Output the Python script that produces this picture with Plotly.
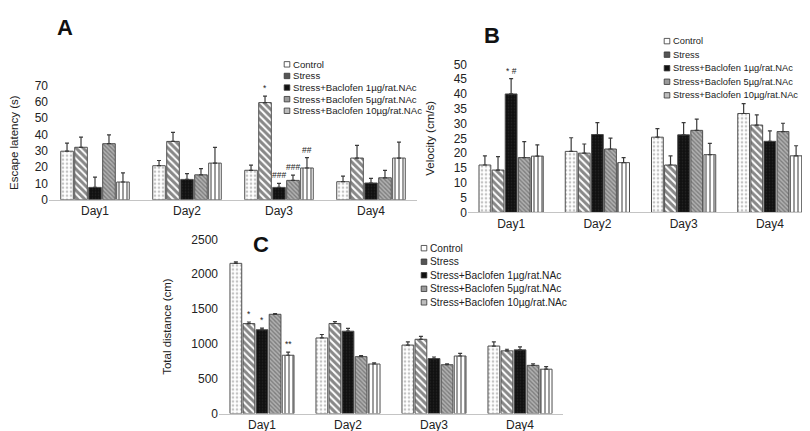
import plotly.graph_objects as go

W, H = 810, 431

days = ["Day1", "Day2", "Day3", "Day4"]
groups = ["Control", "Stress", "Stress+Baclofen 1µg/rat.NAc",
          "Stress+Baclofen 5µg/rat.NAc", "Stress+Baclofen 10µg/rat.NAc"]

# Panel A: escape latency (s)
latency_control = [29.8, 20.9, 18.1, 11.1]
latency_stress = [32.2, 35.8, 59.6, 25.6]
latency_b1 = [7.6, 12.5, 7.6, 10.3]
latency_b5 = [34.4, 15.3, 11.9, 13.5]
latency_b10 = [10.9, 22.5, 19.5, 25.6]
latency_control_err = [5.0, 3.2, 3.2, 3.4]
latency_stress_err = [6.2, 5.6, 4.0, 7.8]
latency_b1_err = [6.3, 3.6, 2.5, 2.8]
latency_b5_err = [5.4, 3.8, 3.2, 4.6]
latency_b10_err = [5.6, 9.7, 6.3, 9.8]

# Panel B: velocity (cm/s)
velocity_control = [16.0, 20.6, 25.4, 33.4]
velocity_stress = [14.3, 20.0, 16.0, 29.5]
velocity_b1 = [40.0, 26.3, 26.2, 24.0]
velocity_b5 = [18.5, 21.4, 27.7, 27.3]
velocity_b10 = [19.0, 16.8, 19.5, 19.1]
velocity_control_err = [3.1, 4.6, 2.9, 3.3]
velocity_stress_err = [4.5, 3.1, 3.1, 3.4]
velocity_b1_err = [5.2, 4.0, 4.1, 3.5]
velocity_b5_err = [5.4, 3.7, 3.8, 2.8]
velocity_b10_err = [3.8, 1.7, 3.8, 3.4]

# Panel C: total distance (cm)
distance_control = [2157, 1086, 984, 970]
distance_stress = [1292, 1294, 1067, 901]
distance_b1 = [1204, 1183, 790, 915]
distance_b5 = [1426, 818, 702, 693]
distance_b10 = [838, 712, 827, 638]
distance_control_err = [20, 50, 46, 60]
distance_stress_err = [23, 28, 42, 23]
distance_b1_err = [23, 42, 23, 42]
distance_b5_err = [9, 14, 14, 23]
distance_b10_err = [46, 18, 37, 37]

# significance marks: (panel, day index, group index, text)
sig_panel = ["A", "A", "A", "A", "B", "C", "C", "C"]
sig_day = [2, 2, 2, 2, 0, 0, 0, 0]
sig_group = [1, 2, 3, 4, 2, 1, 2, 4]
sig_text = ["*", "###", "###", "##", "* #", "*", "*", "**"]

FONT = "Arial, Liberation Sans, sans-serif"
BARGAP = 0.24
BARGROUPGAP = 0.1

styles = [
    dict(color="white", pattern=dict(shape=".", fgcolor="#8a8a8a", bgcolor="white", size=4, solidity=0.35)),
    dict(color="white", pattern=dict(shape="\\", fgcolor="#111111", bgcolor="white", size=5, solidity=0.6)),
    dict(color="#151515", pattern=dict(shape=".", fgcolor="#3a3a3a", bgcolor="#111111", size=3, solidity=0.2)),
    dict(color="#9a9a9a", pattern=dict(shape="\\", fgcolor="#4a4a4a", bgcolor="#b0b0b0", size=3, solidity=0.45)),
    dict(color="white", pattern=dict(shape="|", fgcolor="#222222", bgcolor="white", size=4, solidity=0.45)),
]
legend_fill = ["white", "#555555", "#111111", "#9a9a9a", "#bdbdbd"]

panels = {
    "A": dict(vals=[latency_control, latency_stress, latency_b1, latency_b5, latency_b10],
              errs=[latency_control_err, latency_stress_err, latency_b1_err, latency_b5_err, latency_b10_err],
              xpx=(41, 409), ypx=(191, 73), yrange=(0, 70), dtick=10,
              title="Escape latency (s)", xa="x", ya="y", standoff=17),
    "B": dict(vals=[velocity_control, velocity_stress, velocity_b1, velocity_b5, velocity_b10],
              errs=[velocity_control_err, velocity_stress_err, velocity_b1_err, velocity_b5_err, velocity_b10_err],
              xpx=(460, 805), ypx=(204, 51), yrange=(0, 50), dtick=5,
              title="Velocity (cm/s)", xa="x2", ya="y2", standoff=16),
    "C": dict(vals=[distance_control, distance_stress, distance_b1, distance_b5, distance_b10],
              errs=[distance_control_err, distance_stress_err, distance_b1_err, distance_b5_err, distance_b10_err],
              xpx=(211, 555), ypx=(412, 232), yrange=(0, 2500), dtick=500,
              title="Total distance (cm)", xa="x3", ya="y3", standoff=17),
}

fig = go.Figure()
for key, p in panels.items():
    for gi in range(5):
        fig.add_trace(go.Bar(
            x=days, y=p["vals"][gi], name=groups[gi], showlegend=False,
            xaxis=p["xa"], yaxis=p["ya"],
            marker=dict(color=styles[gi]["color"], pattern=styles[gi]["pattern"],
                        line=dict(color="#4d4d4d", width=1)),
            error_y=dict(type="data", symmetric=False, array=p["errs"][gi],
                         arrayminus=[0] * len(days), color="#3a3a3a", thickness=1.2, width=2),
        ))

layout = dict(
    width=W, height=H, margin=dict(l=0, r=0, t=0, b=0),
    paper_bgcolor="white", plot_bgcolor="white",
    barmode="group", bargap=BARGAP, bargroupgap=BARGROUPGAP,
    font=dict(family=FONT, size=12, color="#222222"),
    showlegend=False,
)

annotations = []
shapes = []
for key, p in panels.items():
    n = p["xa"][1:]
    x0, x1 = p["xpx"]
    yb, yt = p["ypx"]
    layout["xaxis" + n] = dict(
        domain=[x0 / W, x1 / W], anchor=p["ya"], showline=True, linecolor="#c4c4c4",
        linewidth=1, ticks="", showgrid=False, zeroline=False,
        tickfont=dict(size=12, family=FONT, color="#222222"), fixedrange=True)
    layout["yaxis" + n] = dict(
        domain=[1 - yb / H, 1 - yt / H], anchor=p["xa"], range=list(p["yrange"]),
        dtick=p["dtick"], showline=False, showgrid=False, zeroline=False, ticks="",
        tickfont=dict(size=12, family=FONT, color="#222222"),
        title=dict(text=p["title"], font=dict(size=11.5, family=FONT, color="#222222"),
                   standoff=p["standoff"]))

# significance marks placed over the bars via data values
for pk, di, gi, txt in zip(sig_panel, sig_day, sig_group, sig_text):
    p = panels[pk]
    cat_px = (p["xpx"][1] - p["xpx"][0]) / len(days)
    slot = cat_px * (1 - BARGAP) / 5
    annotations.append(dict(
        x=days[di], y=p["vals"][gi][di] + p["errs"][gi][di], xref=p["xa"], yref=p["ya"],
        text=txt, showarrow=False, xshift=(gi - 2) * slot, yshift=1, yanchor="bottom",
        font=dict(size=8.5, family=FONT, color="#222222")))

# panel letters
for letter, (px, py) in {"A": (57, 13), "B": (484, 21), "C": (253, 237)}.items():
    annotations.append(dict(x=px / W, y=1 - py / H, xref="paper", yref="paper", text="<b>%s</b>" % letter,
                            showarrow=False, font=dict(size=22, family=FONT, color="#111111"),
                            xanchor="center", yanchor="middle"))

# legends (compact, per panel)
legend_pos = {"A": (279, [51, 63, 75, 87, 99], 9.6),
              "B": (659, [27, 41, 55, 69, 83], 9.3),
              "C": (416, [241, 255, 269, 283, 297], 10.2)}
for key, (mx, rows, fs) in legend_pos.items():
    for gi, ry in enumerate(rows):
        s = 2.8
        shapes.append(dict(type="rect", xref="paper", yref="paper",
                           x0=(mx - s) / W, x1=(mx + s) / W, y0=1 - (ry + s) / H, y1=1 - (ry - s) / H,
                           fillcolor=legend_fill[gi], line=dict(color="#333333", width=0.8)))
        annotations.append(dict(x=(mx + 4) / W, y=1 - ry / H, xref="paper", yref="paper",
                                text=groups[gi], showarrow=False, xanchor="left", yanchor="middle",
                                font=dict(size=fs, family=FONT, color="#222222")))

layout["annotations"] = annotations
layout["shapes"] = shapes
fig.update_layout(**layout)
fig.write_html("out.html")
